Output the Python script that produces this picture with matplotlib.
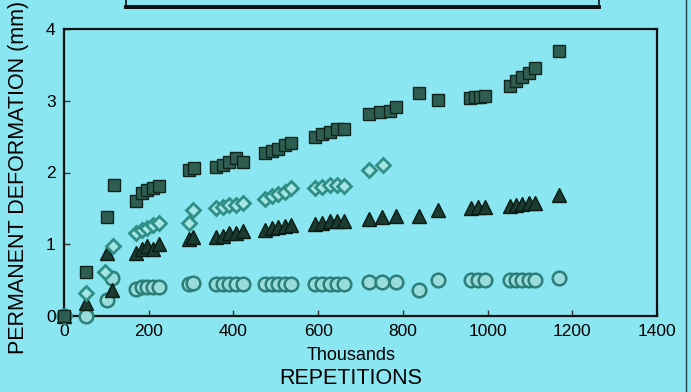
import matplotlib
matplotlib.use("Agg")
import matplotlib.pyplot as plt
from matplotlib.patches import Rectangle
from matplotlib.lines import Line2D

plt.rcParams['font.family'] = ['Liberation Sans', 'DejaVu Sans']

# Data (thousands of repetitions, permanent deformation in mm)
sq_x = [0, 51, 101, 118, 170, 183, 197, 211, 225, 294, 306, 360, 375, 390, 405, 422,
        474, 490, 506, 521, 537, 593, 610, 627, 644, 660, 720, 745, 770, 784, 839, 883,
        958, 970, 982, 995, 1052, 1067, 1082, 1098, 1113, 1168]
sq_y = [0, 0.62, 1.38, 1.82, 1.60, 1.72, 1.76, 1.78, 1.81, 2.04, 2.06, 2.08, 2.10, 2.15, 2.20, 2.15,
        2.27, 2.30, 2.33, 2.38, 2.41, 2.50, 2.54, 2.57, 2.60, 2.60, 2.82, 2.85, 2.86, 2.91, 3.11, 3.01,
        3.04, 3.05, 3.05, 3.06, 3.20, 3.27, 3.33, 3.38, 3.45, 3.69]

di_x = [0, 51, 97, 116, 170, 183, 197, 211, 225, 294, 304, 360, 375, 390, 405, 422,
        474, 490, 506, 521, 537, 593, 610, 627, 644, 660, 720, 753]
di_y = [0, 0.32, 0.62, 0.97, 1.15, 1.20, 1.23, 1.27, 1.30, 1.30, 1.48, 1.50, 1.52, 1.55, 1.55, 1.58,
        1.63, 1.67, 1.70, 1.73, 1.78, 1.78, 1.80, 1.82, 1.82, 1.81, 2.04, 2.10]

tr_x = [0, 51, 101, 114, 170, 183, 197, 211, 225, 294, 304, 360, 375, 390, 405, 422,
        474, 490, 506, 521, 537, 593, 610, 627, 644, 660, 720, 750, 784, 839, 883,
        960, 977, 995, 1052, 1067, 1082, 1098, 1113, 1168]
tr_y = [0, 0.18, 0.88, 0.36, 0.88, 0.93, 0.97, 0.93, 1.00, 1.08, 1.10, 1.10, 1.12, 1.15, 1.15, 1.18,
        1.20, 1.22, 1.24, 1.25, 1.27, 1.28, 1.30, 1.32, 1.32, 1.33, 1.35, 1.38, 1.40, 1.40, 1.48,
        1.50, 1.52, 1.52, 1.53, 1.55, 1.56, 1.57, 1.58, 1.68]

ci_x = [0, 51, 101, 114, 170, 183, 197, 211, 225, 294, 304, 360, 375, 390, 405, 422,
        474, 490, 506, 521, 537, 593, 610, 627, 644, 660, 720, 750, 784, 839, 883,
        960, 977, 995, 1052, 1067, 1082, 1098, 1113, 1168]
ci_y = [0, 0, 0.22, 0.53, 0.38, 0.40, 0.40, 0.40, 0.41, 0.45, 0.46, 0.45, 0.45, 0.45, 0.45, 0.45,
        0.45, 0.45, 0.45, 0.45, 0.45, 0.45, 0.45, 0.45, 0.45, 0.45, 0.47, 0.47, 0.48, 0.36, 0.50,
        0.50, 0.50, 0.50, 0.50, 0.50, 0.50, 0.50, 0.50, 0.53]

x_ticks = [0, 200, 400, 600, 800, 1000, 1200, 1400]
y_ticks = [0, 1, 2, 3, 4]

BG = '#8ae6f0'

fig = plt.figure(figsize=(6.91, 3.92), dpi=100, facecolor=BG)
W, H = 691, 392
left, right, top, bottom = 64, 657, 29, 316
ax = fig.add_axes([left / W, 1 - bottom / H, (right - left) / W, (bottom - top) / H])
ax.set_facecolor(BG)

ax.plot(ci_x, ci_y, linestyle='none', marker='o', ms=9.8, mfc='#9adcdc', mec='#2b7f78', mew=1.8, zorder=3, clip_on=False)
ax.plot(tr_x, tr_y, linestyle='none', marker='^', ms=10, mfc='#1c3b30', mec='#0a1a14', mew=1.0, zorder=4, clip_on=False)
ax.plot(di_x, di_y, linestyle='none', marker='D', ms=7.0, mfc='#a4e6e6', mec='#2f8f86', mew=2.0, zorder=5, clip_on=False)
ax.plot(sq_x, sq_y, linestyle='none', marker='s', ms=9, mfc='#2e5e50', mec='#10241d', mew=1.0, zorder=6, clip_on=False)

ax.set_xlim(0, 1400)
ax.set_ylim(0, 4)
ax.set_xticks(x_ticks)
ax.set_yticks(y_ticks)
ax.set_xticklabels([str(v) for v in x_ticks], fontsize=12.5)
ax.set_yticklabels([str(v) for v in y_ticks], fontsize=12.5)
ax.tick_params(direction='in', length=4, width=1, color='#333333', pad=6)
for s in ax.spines.values():
    s.set_linewidth(1.6)
    s.set_color('#111111')

fig.text(351 / W, 1 - 356 / H, 'Thousands', ha='center', va='center', fontsize=13)
fig.text(351 / W, 1 - 379 / H, 'REPETITIONS', ha='center', va='center', fontsize=15.5)
fig.text(19 / W, 1 - 177 / H, 'PERMANENT DEFORMATION (mm)', ha='center', va='center',
         rotation=90, fontsize=15.5)

# Legend box (cut off at the top of the figure)
fig.add_artist(Rectangle((126 / W, 1 - 8 / H), (599 - 126) / W, 20 / H, transform=fig.transFigure,
                         facecolor='none', edgecolor='#111111', linewidth=1.2, clip_on=False))
fig.add_artist(Line2D([126 / W, 599 / W], [1 - 7 / H, 1 - 7 / H], transform=fig.transFigure,
                      color='#111111', linewidth=2.8))
# Right frame line
fig.add_artist(Line2D([686 / W, 686 / W], [0, 1], transform=fig.transFigure,
                      color='#224444', linewidth=1.0))

fig.savefig('out.png', dpi=100, facecolor=BG)
